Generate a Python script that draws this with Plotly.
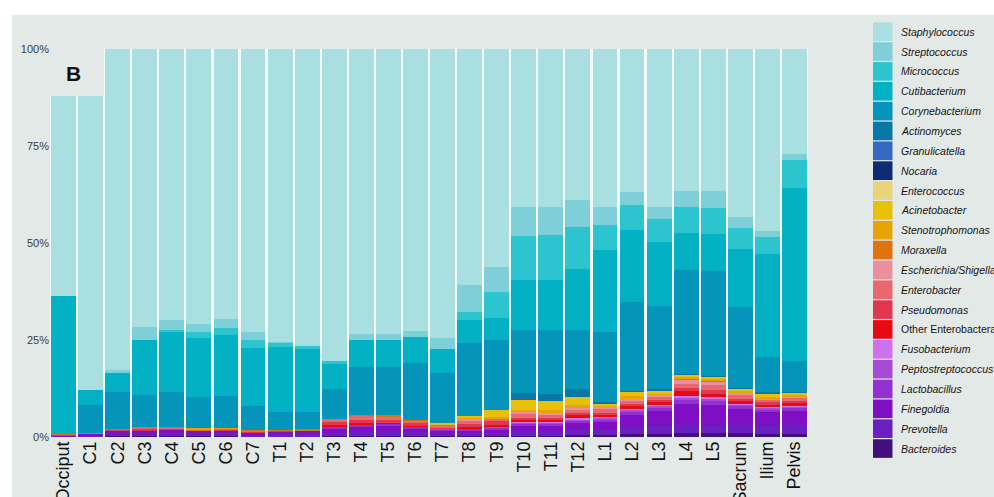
import plotly.graph_objects as go

# Sampling sites along the spine
sites = ["Occiput", "C1", "C2", "C3", "C4", "C5", "C6", "C7",
         "T1", "T2", "T3", "T4", "T5", "T6", "T7", "T8", "T9", "T10", "T11", "T12",
         "L1", "L2", "L3", "L4", "L5", "Sacrum", "Ilium", "Pelvis"]

# Relative abundance (%) per genus, one value per site
staphylococcus = [51.7, 75.9, 82.7, 71.6, 69.8, 70.9, 69.7, 73.0, 75.4, 76.5, 80.4, 73.5, 73.5, 72.6,
                  74.6, 60.8, 56.1, 40.6, 40.8, 38.9, 40.8, 36.8, 40.6, 36.5, 36.7, 43.2, 46.8, 27.0]
streptococcus = [0, 0, 0.7, 3.4, 2.6, 2.1, 2.3, 2.0, 0.3, 0, 0, 1.5, 1.5, 1.5,
                 2.8, 6.9, 6.4, 7.7, 7.1, 7.0, 4.6, 3.4, 3.3, 4.1, 4.3, 3.0, 1.6, 1.5]
micrococcus = [0, 0, 0, 0, 0.6, 1.5, 1.7, 2.1, 1.0, 0.9, 0.8, 0, 0, 0,
               0, 2.1, 6.9, 11.2, 11.7, 10.9, 6.4, 6.4, 5.8, 6.9, 6.8, 5.4, 4.4, 7.3]
cutibacterium = [35.5, 3.9, 5.0, 14.2, 15.4, 15.3, 15.7, 14.9, 16.8, 16.1, 6.3, 6.9, 6.9, 6.7,
                 6.2, 5.9, 5.6, 12.8, 12.8, 15.6, 21.1, 18.5, 16.5, 9.5, 9.5, 14.8, 26.5, 44.7]
corynebacterium = [0, 7.2, 9.6, 8.2, 9.0, 8.0, 8.2, 6.2, 4.7, 4.5, 7.9, 12.4, 12.4, 14.8,
                   12.9, 18.9, 18.0, 16.4, 16.4, 15.2, 18.1, 23.0, 21.5, 26.8, 27.0, 20.9, 9.2, 8.0]
actinomyces = [0, 0, 0, 0, 0, 0, 0, 0, 0, 0, 0, 0, 0, 0,
               0, 0, 0, 1.8, 1.8, 2.2, 0.3, 0.2, 0.2, 0.2, 0.2, 0.2, 0.2, 0.1]
granulicatella = [0] * 28
nocaria = [0] * 28
enterococcus = [0] * 28
acinetobacter = [0, 0, 0, 0, 0, 0, 0, 0, 0, 0, 0, 0, 0, 0,
                 0.3, 0.3, 1.8, 2.6, 2.5, 2.0, 0.6, 1.2, 0.9, 0.6, 0.6, 0.7, 1.0, 0.6]
stenotrophomonas = [0, 0, 0, 0, 0, 0.2, 0.2, 0, 0, 0, 0, 0, 0, 0,
                    0, 0.3, 0.4, 0.4, 0.5, 0.6, 0.3, 0.5, 0.3, 0.4, 0.3, 0.4, 0.3, 0.3]
moraxella = [0.1, 0.1, 0.1, 0.2, 0.2, 0.2, 0.2, 0.2, 0.2, 0.2, 0, 0.2, 0.3, 0.2,
             0.2, 0, 0, 0, 0, 0, 0, 0, 0, 0.2, 0.2, 0, 0, 0]
escherichia_shigella = [0, 0, 0, 0, 0, 0, 0, 0, 0, 0, 0, 0, 0, 0,
                        0, 0.6, 0, 0.6, 0.5, 0.6, 0.6, 0.8, 0.5, 1.2, 1.1, 0.6, 0.4, 0.4]
enterobacter = [0, 0, 0, 0.1, 0.1, 0, 0, 0.1, 0, 0, 0.7, 1.0, 0.9, 0.7,
                0.5, 0.9, 0.8, 1.0, 1.1, 0.8, 0.9, 0.7, 0.9, 1.0, 1.3, 0.9, 0.6, 0.7]
pseudomonas = [0.2, 0.1, 0.2, 0.5, 0.3, 0.2, 0.2, 0.3, 0.3, 0.2, 0.9, 1.0, 0.8, 0.6,
               0.5, 0.7, 0.8, 0.4, 0.4, 0.6, 0.5, 0.6, 0.6, 0.8, 0.8, 0.7, 0.5, 0.5]
other_enterobacterales = [0, 0, 0, 0, 0, 0, 0, 0, 0, 0, 0.3, 0.4, 0.2, 0.2,
                          0, 0.4, 0.5, 0.6, 0.5, 0.7, 0.5, 0.6, 0.6, 1.2, 1.0, 0.5, 0.7, 0.8]
fusobacterium = [0, 0, 0, 0, 0, 0, 0, 0, 0, 0, 0, 0, 0, 0,
                 0, 0, 0, 0.2, 0.2, 0.3, 0.4, 0.3, 0.3, 0.4, 0.4, 0.3, 0.3, 0.3]
peptostreptococcus = [0, 0, 0, 0, 0, 0, 0, 0, 0, 0, 0, 0, 0, 0,
                      0, 0, 0.3, 0.3, 0.3, 0.3, 0.4, 0.4, 0.4, 0.6, 0.5, 0.4, 0.3, 0.3]
lactobacillus = [0, 0, 0.1, 0.1, 0.1, 0, 0, 0, 0, 0, 0.6, 0.6, 0.7, 0.5,
                 0.3, 0.4, 0.5, 0.5, 0.5, 0.6, 0.6, 0.8, 0.9, 1.0, 1.0, 0.8, 0.7, 0.7]
finegoldia = [0.2, 0.3, 0.7, 0.8, 0.9, 0.7, 0.8, 0.6, 0.6, 0.8, 1.0, 1.2, 1.4, 1.0,
              0.8, 0.8, 0.8, 1.4, 1.5, 2.0, 2.1, 3.2, 3.8, 5.6, 5.5, 4.0, 3.6, 3.8]
prevotella = [0.3, 0.4, 0.7, 0.7, 0.8, 0.7, 0.8, 0.5, 0.6, 0.7, 0.8, 1.0, 1.1, 0.9,
              0.7, 0.8, 0.8, 1.2, 1.2, 1.2, 1.4, 1.8, 2.0, 2.0, 1.8, 2.2, 2.0, 2.1]
bacteroides = [0, 0.1, 0.2, 0.2, 0.2, 0.2, 0.2, 0.1, 0.1, 0.1, 0.3, 0.3, 0.3, 0.3,
               0.2, 0.2, 0.3, 0.3, 0.2, 0.5, 0.4, 0.8, 0.9, 1.0, 1.0, 1.0, 0.9, 0.9]

# Stack order, bottom to top: (name, values, colour, italic)
genera = [
    ("Bacteroides", bacteroides, "#40107f", True),
    ("Prevotella", prevotella, "#6a1fc0", True),
    ("Finegoldia", finegoldia, "#7e0fc5", True),
    ("Lactobacillus", lactobacillus, "#9430d0", True),
    ("Peptostreptococcus", peptostreptococcus, "#a84ad8", True),
    ("Fusobacterium", fusobacterium, "#cd72ef", True),
    ("Other Enterobacterales", other_enterobacterales, "#e80a12", False),
    ("Pseudomonas", pseudomonas, "#e03650", True),
    ("Enterobacter", enterobacter, "#e8686f", True),
    ("Escherichia/Shigella", escherichia_shigella, "#e9909c", True),
    ("Moraxella", moraxella, "#e07212", True),
    ("Stenotrophomonas", stenotrophomonas, "#e8a308", True),
    ("Acinetobacter", acinetobacter, "#e8c007", True),
    ("Enterococcus", enterococcus, "#e9d47e", True),
    ("Nocaria", nocaria, "#0c2d74", True),
    ("Granulicatella", granulicatella, "#3569c4", True),
    ("Actinomyces", actinomyces, "#0878a6", True),
    ("Corynebacterium", corynebacterium, "#0595bb", True),
    ("Cutibacterium", cutibacterium, "#02b2c4", True),
    ("Micrococcus", micrococcus, "#2cc5cf", True),
    ("Streptococcus", streptococcus, "#7fcfd9", True),
    ("Staphylococcus", staphylococcus, "#a9dfe0", True),
]

W, H = 994, 497
ML, MR, MT, MB = 50, 186, 49, 60
PW, PH = W - ML - MR, H - MT - MB
BG = "#e3e9e6"


def px_x(p):
    return (p - ML) / PW


def px_y(p):
    return (H - MB - p) / PH


fig = go.Figure()

# Pale full-width underlay so the gaps between bars read as thin light seams
totals = [round(sum(g[1][i] for g in genera), 2) for i in range(len(sites))]
fig.add_trace(go.Bar(x=sites, y=totals, width=1.0, marker=dict(color="#f2fafa", line=dict(width=0)),
                     showlegend=False, hoverinfo="skip", xaxis="x", yaxis="y"))

for name, vals, color, _ in genera:
    fig.add_trace(go.Bar(x=sites, y=vals, name=name, marker=dict(color=color, line=dict(width=0)),
                         showlegend=False, xaxis="x2", yaxis="y2"))

axis_common = dict(type="category", categoryorder="array", categoryarray=sites,
                   range=[-0.5, len(sites) - 0.5], showgrid=False, zeroline=False, showline=False)
fig.update_layout(
    template="none",
    width=W, height=H,
    margin=dict(l=ML, r=MR, t=MT, b=MB, autoexpand=False),
    paper_bgcolor="white",
    plot_bgcolor="rgba(0,0,0,0)",
    barmode="stack",
    bargap=0.08,
    font=dict(family="Liberation Sans, Arial, sans-serif", color="#111"),
    xaxis=dict(**axis_common, tickangle=-90, ticks="", automargin=False,
               tickfont=dict(size=18, color="#111")),
    xaxis2=dict(**axis_common, overlaying="x", showticklabels=False),
    yaxis=dict(range=[0, 100], tickvals=[0, 25, 50, 75, 100],
               ticktext=["0%", "25%", "50%", "75%", "100%"], showgrid=False, zeroline=False,
               showline=False, ticks="", automargin=False, tickfont=dict(size=11, color="#3c3c3c")),
    yaxis2=dict(range=[0, 100], overlaying="y", showticklabels=False, showgrid=False,
                zeroline=False, showline=False),
)

shapes = [dict(type="rect", xref="paper", yref="paper", x0=px_x(12), x1=px_x(W + 5),
               y0=px_y(15), y1=px_y(H + 5), fillcolor=BG, line=dict(width=0), layer="below")]
annotations = [dict(text="<b>B</b>", xref="paper", yref="paper", x=px_x(73), y=px_y(73),
                    showarrow=False, font=dict(size=21, color="#111"),
                    xanchor="center", yanchor="middle")]

# Legend key: top row is the top of the stack
row_h = 19.85
for i, (name, _, color, italic) in enumerate(reversed(genera)):
    cy = 31.7 + i * row_h
    shapes.append(dict(type="rect", xref="paper", yref="paper",
                       x0=px_x(873), x1=px_x(892.5),
                       y0=px_y(cy + row_h / 2 - 0.6), y1=px_y(cy - row_h / 2 + 0.6),
                       fillcolor=color, line=dict(width=0)))
    label = f"<i>{name}</i>" if italic else name
    annotations.append(dict(text=label, xref="paper", yref="paper", x=px_x(899), y=px_y(cy),
                            showarrow=False, xanchor="left", yanchor="middle",
                            font=dict(size=10.5, color="#151515")))

fig.update_layout(shapes=shapes, annotations=annotations)
fig.write_html("out.html")
